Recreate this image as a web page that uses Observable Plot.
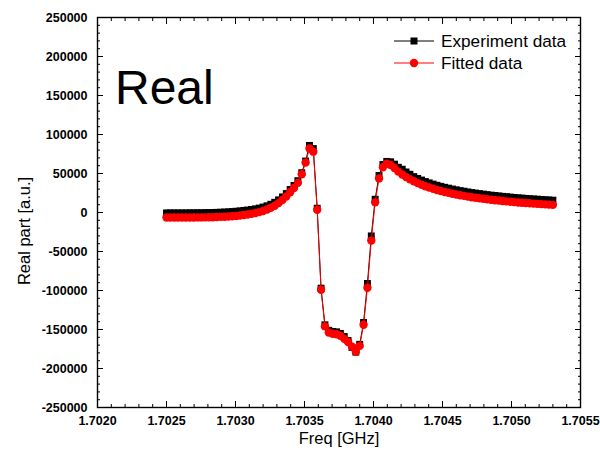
<!DOCTYPE html>
<html><head><meta charset="utf-8">
<script src="https://cdn.jsdelivr.net/npm/d3@7"></script>
<script src="https://cdn.jsdelivr.net/npm/@observablehq/plot@0.6"></script>
<style>
body{margin:0;background:#fff;}
#wrap{position:relative;width:600px;height:463px;}
#wrap svg{position:absolute;left:0;top:0;}
</style></head><body><div id="wrap"></div>
<script>
const freq = [1.702500,1.702528,1.702556,1.702584,1.702612,1.702640,1.702668,1.702696,1.702724,1.702752,
1.702780,1.702808,1.702836,1.702864,1.702892,1.702920,1.702948,1.702976,1.703004,1.703032,
1.703060,1.703088,1.703116,1.703144,1.703172,1.703200,1.703228,1.703256,1.703284,1.703312,
1.703340,1.703368,1.703396,1.703424,1.703452,1.703480,1.703508,1.703536,1.703564,1.703592,
1.703620,1.703648,1.703676,1.703704,1.703732,1.703760,1.703788,1.703816,1.703844,1.703872,
1.703900,1.703928,1.703956,1.703984,1.704012,1.704040,1.704068,1.704096,1.704124,1.704152,
1.704180,1.704208,1.704236,1.704264,1.704292,1.704320,1.704348,1.704376,1.704404,1.704432,
1.704460,1.704488,1.704516,1.704544,1.704572,1.704600,1.704628,1.704656,1.704684,1.704712,
1.704740,1.704768,1.704796,1.704824,1.704852,1.704880,1.704908,1.704936,1.704964,1.704992,
1.705020,1.705048,1.705076,1.705104,1.705132,1.705160,1.705188,1.705216,1.705244,1.705272,
1.705300];

const experimentData = [-500,-500,-500,-500,-500,-500,-400,-400,-300,-300,
-200,-100,0,200,400,600,900,1200,1600,2100,
2700,3200,3900,4700,5700,7000,8600,10600,13100,16200,
20000,24300,29500,34700,40800,51000,66000,86000,82000,5500,
-97000,-144000,-151000,-152500,-153000,-155000,-159000,-164000,-173000,-179000,
-169000,-141000,-91000,-30000,17000,47500,61500,65500,65000,62000,
58000,55500,52000,49000,46000,43700,41600,39700,38000,36400,
34900,33600,32300,31200,30100,29100,28100,27300,26400,25600,
24900,24200,23600,22900,22300,21800,21300,20700,20300,19800,
19300,18900,18500,18100,17800,17400,17100,16700,16400,16100,
15800];

const fittedData = [-6500,-6500,-6500,-6500,-6500,-6500,-6400,-6400,-6300,-6300,
-6200,-6100,-6000,-5800,-5600,-5400,-5100,-4800,-4400,-3900,
-3300,-2600,-1700,-700,500,2000,3800,6000,8700,12000,
16000,20500,26000,31500,38000,49000,64000,82000,78000,3500,
-99000,-146000,-154000,-155500,-156000,-158000,-162000,-166000,-172000,-178500,
-171000,-144000,-96500,-36000,13000,43700,58000,62500,61000,57000,
52400,48700,45400,42600,40000,37700,35600,33700,32000,30400,
28900,27600,26300,25200,24100,23100,22100,21300,20400,19600,
18900,18200,17600,16900,16300,15800,15300,14700,14300,13800,
13300,12900,12500,12100,11800,11400,11100,10700,10400,10100,
9800];

const xTicks = [1.7020,1.7025,1.7030,1.7035,1.7040,1.7045,1.7050,1.7055];
const xTickLabels = ["1.7020","1.7025","1.7030","1.7035","1.7040","1.7045","1.7050","1.7055"];
const yTicks = [-250000,-200000,-150000,-100000,-50000,0,50000,100000,150000,200000,250000];
const yTickLabels = ["-250000","-200000","-150000","-100000","-50000","0","50000","100000","150000","200000","250000"];
const seriesNames = ["Experiment data","Fitted data"];
const seriesColors = ["#000000","#ff0000"];
const xTitle = "Freq [GHz]";
const yTitle = "Real part [a.u.]";
const panelTitle = "Real";

const xMinor = d3.range(0,36).map(i => 1.7020 + i*0.0001);
const yMinor = d3.range(-25,26).map(i => i*10000);

const data = freq.map((f,i)=>({f, exp: experimentData[i], fit: fittedData[i]}));
const FONT = '"Liberation Sans", Arial, sans-serif';
const nearestLabel = (ticks, labels) => d => { let k=0, best=Infinity; ticks.forEach((t,i)=>{const e=Math.abs(t-d); if(e<best){best=e;k=i;}}); return labels[k]; };

const chart = Plot.plot({
  width:600, height:463,
  marginLeft:97, marginRight:20, marginTop:17, marginBottom:56,
  style:{fontFamily:FONT, background:"transparent", color:"#000"},
  x:{domain:[1.7020,1.7055], label:null},
  y:{domain:[-250000,250000], label:null},
  marks:[
    Plot.line(data,{x:"f",y:"exp",stroke:seriesColors[0],strokeWidth:1}),
    Plot.dot(data,{x:"f",y:"exp",symbol:"square",r:3.9,fill:seriesColors[0],stroke:"none"}),
    Plot.line(data,{x:"f",y:"fit",stroke:seriesColors[1],strokeWidth:1}),
    Plot.dot(data,{x:"f",y:"fit",r:4.2,fill:seriesColors[1],stroke:"none"}),
    Plot.axisX({ticks:xMinor,anchor:"bottom",tickSize:-3,tickFormat:()=>"",label:null}),
    Plot.axisX({ticks:xMinor,anchor:"top",tickSize:-3,tickFormat:()=>"",label:null}),
    Plot.axisY({ticks:yMinor,anchor:"left",tickSize:-3,tickFormat:()=>"",label:null}),
    Plot.axisY({ticks:yMinor,anchor:"right",tickSize:-3,tickFormat:()=>"",label:null}),
    Plot.axisX({ticks:xTicks,anchor:"bottom",tickSize:-6,tickFormat:()=>"",label:null}),
    Plot.axisX({ticks:xTicks,anchor:"top",tickSize:-6,tickFormat:()=>"",label:null}),
    Plot.axisY({ticks:yTicks,anchor:"left",tickSize:-6,tickFormat:()=>"",label:null}),
    Plot.axisY({ticks:yTicks,anchor:"right",tickSize:-6,tickFormat:()=>"",label:null}),
    Plot.axisX({ticks:xTicks,anchor:"bottom",tickSize:0,tickPadding:9,tickFormat:nearestLabel(xTicks,xTickLabels),label:null,fontWeight:"bold",fontSize:12.5}),
    Plot.axisY({ticks:yTicks,anchor:"left",tickSize:0,tickPadding:10,tickFormat:nearestLabel(yTicks,yTickLabels),label:null,fontWeight:"bold",fontSize:12.5}),
    Plot.frame({stroke:"#000",strokeWidth:1.4})
  ]
});
const wrap = document.getElementById("wrap");
wrap.appendChild(chart);

const ov = d3.select(wrap).append("svg").attr("width",600).attr("height",463)
  .style("font-family",FONT).style("pointer-events","none");
ov.append("text").attr("x",339).attr("y",444).attr("text-anchor","middle").attr("font-size",16.5).text(xTitle);
ov.append("text").attr("transform","translate(30,231) rotate(-90)").attr("text-anchor","middle").attr("font-size",16.5).text(yTitle);
ov.append("text").attr("x",115).attr("y",104).attr("font-size",48).text(panelTitle);
const rows = [41,63];
seriesNames.forEach((name,i)=>{
  const y = rows[i];
  ov.append("line").attr("x1",394).attr("x2",434).attr("y1",y).attr("y2",y).attr("stroke",seriesColors[i]).attr("stroke-width",1.2);
  if(i===0) ov.append("rect").attr("x",410.5).attr("y",y-3.5).attr("width",7).attr("height",7).attr("fill",seriesColors[i]);
  else ov.append("circle").attr("cx",414).attr("cy",y).attr("r",4.2).attr("fill",seriesColors[i]);
  ov.append("text").attr("x",441).attr("y",y+6).attr("font-size",17.2).text(name);
});
</script></body></html>
